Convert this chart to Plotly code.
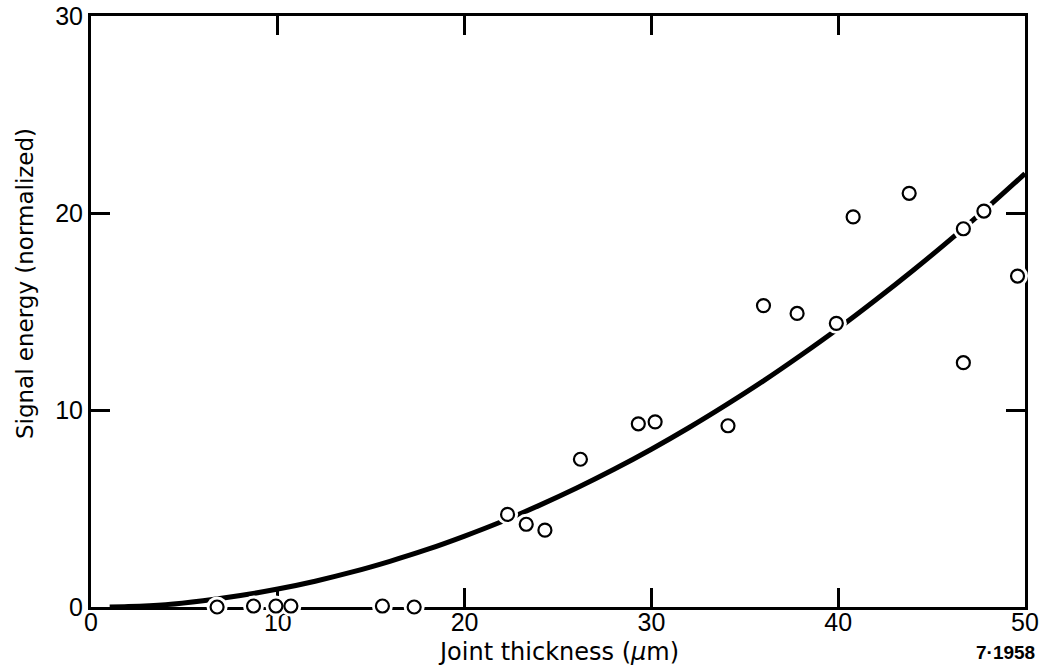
import plotly.graph_objects as go

# Measured data points (joint thickness in µm, normalized signal energy)
thickness = [6.75, 8.7, 9.9, 10.7, 15.6, 17.3, 22.3, 23.3, 24.3, 26.2, 29.3, 30.2,
             34.1, 36.0, 37.8, 39.9, 40.8, 43.8, 46.7, 46.7, 47.8, 49.6]
energy = [0.0, 0.05, 0.05, 0.05, 0.05, 0.0, 4.7, 4.2, 3.9, 7.5, 9.3, 9.4,
          9.2, 15.3, 14.9, 14.4, 19.8, 21.0, 19.2, 12.4, 20.1, 16.8]

# Fitted curve
curve_x = [1, 2, 4, 6, 8, 10, 12, 14, 16, 18, 20, 22, 24, 26, 28, 30, 32, 34, 36, 38,
           40, 42, 44, 46, 48, 50]
curve_y = [0.0, 0.02, 0.12, 0.32, 0.58, 0.91, 1.31, 1.78, 2.32, 2.92, 3.60, 4.34, 5.16,
           6.04, 6.99, 8.01, 9.10, 10.26, 11.48, 12.78, 14.14, 15.58, 17.08, 18.65,
           20.29, 22.0]

x_ticks = [0, 10, 20, 30, 40, 50]
y_ticks = [0, 10, 20, 30]

FONT = "Liberation Sans, Arial, sans-serif"
TITLE_FONT = "DejaVu Sans, Liberation Sans, sans-serif"

fig = go.Figure()

fig.add_trace(go.Scatter(
    x=curve_x, y=curve_y, mode="lines",
    line=dict(color="black", width=5, shape="spline"),
    hoverinfo="skip", showlegend=False,
))
# white halos that break the curve around the circles
fig.add_trace(go.Scatter(
    x=thickness, y=energy, mode="markers",
    marker=dict(symbol="circle", size=21, color="white", line=dict(width=0)),
    cliponaxis=False, hoverinfo="skip", showlegend=False,
))
fig.add_trace(go.Scatter(
    x=thickness, y=energy, mode="markers",
    marker=dict(symbol="circle", size=13, color="white",
                line=dict(color="black", width=2.2)),
    cliponaxis=False, showlegend=False,
))

axis_common = dict(
    showgrid=False, zeroline=False, showline=True, linecolor="black", linewidth=3,
    mirror="ticks", ticks="inside", ticklen=19, tickwidth=2.5, tickcolor="black",
    tickfont=dict(family=FONT, size=25, color="black"),
    layer="below traces", automargin=False,
)

fig.update_xaxes(range=[0, 50], tickvals=x_ticks,
                 ticktext=[str(v) for v in x_ticks], ticklabelstandoff=-9,
                 **axis_common)
fig.update_yaxes(range=[0, 30], tickvals=y_ticks,
                 ticktext=[str(v) for v in y_ticks], **axis_common)

# axis titles and figure number
fig.add_annotation(
    text="Joint thickness (<i>μ</i>m)", xref="paper", yref="paper",
    x=0.5, y=-0.0755, xanchor="center", yanchor="middle", showarrow=False,
    font=dict(family=TITLE_FONT, size=24, color="black"),
)
fig.add_annotation(
    text="Signal energy (normalized)", xref="paper", yref="paper",
    x=-0.0707, y=0.548, xanchor="center", yanchor="middle", showarrow=False,
    textangle=-90, font=dict(family=TITLE_FONT, size=23, color="black"),
)
fig.add_annotation(
    text="<b>7·1958</b>", xref="paper", yref="paper", x=1.0128, y=-0.0778,
    xanchor="right", yanchor="middle", showarrow=False,
    font=dict(family=FONT, size=19, color="black"),
)

fig.update_layout(
    width=1041, height=670,
    margin=dict(l=91, r=16, t=16, b=63),
    paper_bgcolor="white", plot_bgcolor="white",
)

fig.write_html("out.html", config={"displayModeBar": False},
               post_script="document.body.style.margin='0';")
